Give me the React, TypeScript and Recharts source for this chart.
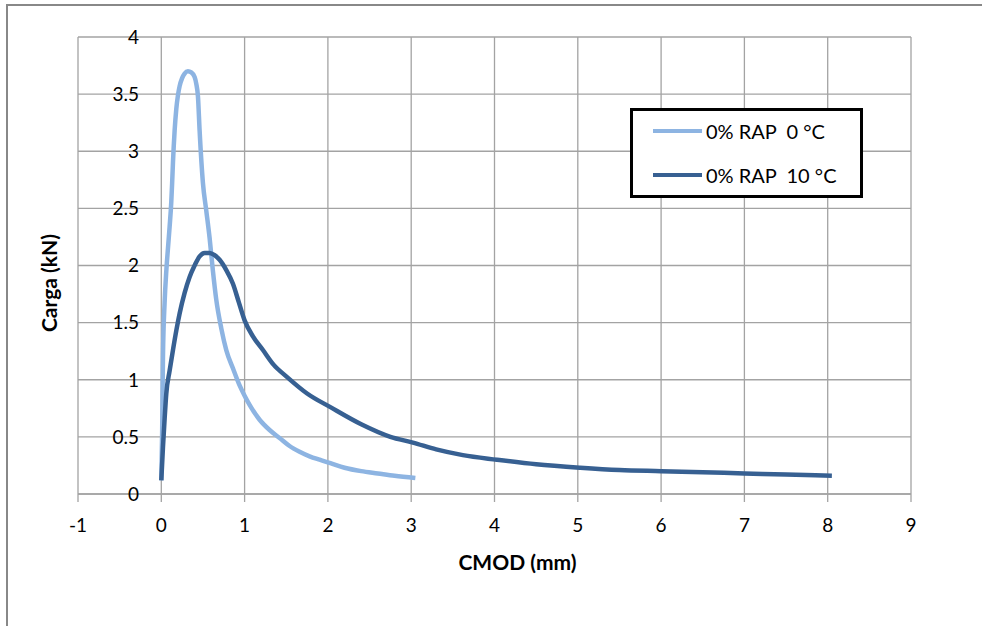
import React from 'react';
import { LineChart, Line, XAxis, YAxis, CartesianGrid, Legend } from 'recharts';

const cmod0 = [0, 0.01, 0.02, 0.04, 0.06, 0.08, 0.10, 0.12, 0.13, 0.14, 0.16, 0.18, 0.20, 0.22, 0.25, 0.28, 0.32, 0.36, 0.40, 0.42, 0.44, 0.46, 0.50, 0.54, 0.58, 0.62, 0.66, 0.72, 0.78, 0.86, 0.94, 1.00, 1.06, 1.18, 1.30, 1.42, 1.54, 1.66, 1.78, 1.90, 2.03, 2.2, 2.4, 2.6, 2.8, 3.05];
const load0 = [0.12, 0.53, 1.20, 1.68, 1.95, 2.15, 2.34, 2.56, 2.72, 2.90, 3.18, 3.37, 3.49, 3.57, 3.64, 3.68, 3.70, 3.69, 3.65, 3.59, 3.48, 3.18, 2.72, 2.48, 2.24, 1.95, 1.70, 1.45, 1.26, 1.10, 0.95, 0.86, 0.78, 0.65, 0.56, 0.49, 0.42, 0.37, 0.33, 0.30, 0.27, 0.23, 0.20, 0.18, 0.16, 0.14];

const cmod10 = [0, 0.02, 0.04, 0.06, 0.10, 0.14, 0.18, 0.22, 0.28, 0.34, 0.40, 0.46, 0.52, 0.58, 0.64, 0.70, 0.78, 0.86, 0.93, 1.00, 1.10, 1.22, 1.35, 1.50, 1.75, 2.03, 2.4, 2.75, 3.02, 3.3, 3.62, 4.03, 4.5, 5.03, 5.5, 6.0, 6.5, 7.0, 7.5, 8.05];
const load10 = [0.12, 0.41, 0.66, 0.88, 1.08, 1.26, 1.43, 1.58, 1.76, 1.90, 2.00, 2.08, 2.11, 2.11, 2.09, 2.05, 1.96, 1.84, 1.68, 1.52, 1.38, 1.26, 1.13, 1.03, 0.88, 0.76, 0.61, 0.50, 0.45, 0.39, 0.34, 0.30, 0.26, 0.23, 0.21, 0.20, 0.19, 0.18, 0.17, 0.16];

const xTicks = [-1, 0, 1, 2, 3, 4, 5, 6, 7, 8, 9];
const yTicks = [0, 0.5, 1, 1.5, 2, 2.5, 3, 3.5, 4];

const seriesNames = ['0% RAP  0 \u00B0C', '0% RAP  10 \u00B0C'];
const seriesColors = ['#8DB4E2', '#376092'];

const data0 = cmod0.map((x, i) => ({ x, y: load0[i] }));
const data10 = cmod10.map((x, i) => ({ x, y: load10[i] }));

const FONT = 'Lato, "Open Sans", sans-serif';
const GRID = '#a3a3a3';

const YTick = (props: any) => {
  const { x, y, payload } = props;
  return (
    <text x={x + 61} y={y} dy="0.36em" textAnchor="end" fill="#000" fontSize={19} fontFamily={FONT}>
      {payload.value}
    </text>
  );
};

const LegendBox = (props: any) => {
  const payload = props.payload || [];
  return (
    <div style={{ width: 233, height: 90, boxSizing: 'border-box', border: '3px solid #000', background: '#fff', position: 'relative', fontFamily: FONT }}>
      {payload.map((p: any, i: number) => (
        <div key={i} style={{ position: 'absolute', left: 0, top: 20 + i * 44 - 12, height: 24, width: 225 }}>
          <div style={{ position: 'absolute', left: 20, top: 10, width: 49, height: 4, background: p.color }} />
          <span style={{ position: 'absolute', left: 73, top: 0, fontSize: 20, lineHeight: '24px', color: '#000', whiteSpace: 'pre' }}>{p.value}</span>
        </div>
      ))}
    </div>
  );
};

export default function App() {
  return (
    <div style={{ position: 'absolute', left: 0, top: 0, width: 982, height: 626, background: '#fff', overflow: 'hidden' }}>
      <div style={{ position: 'absolute', left: 6, top: 4, width: 990, height: 640, borderTop: '2px solid #888', borderLeft: '2px solid #888' }} />
      <LineChart width={982} height={626} margin={{ top: 37, right: 71, bottom: 92, left: 0 }}>
        <CartesianGrid stroke={GRID} strokeWidth={1.3} />
        <XAxis
          type="number"
          dataKey="x"
          domain={[-1, 9]}
          ticks={xTicks}
          interval={0}
          height={40}
          axisLine={{ stroke: GRID, strokeWidth: 1.3 }}
          tickLine={{ stroke: GRID, strokeWidth: 1.3 }}
          tickSize={8}
          tickMargin={17}
          tick={{ fill: '#000', fontSize: 19, fontFamily: FONT }}
          label={({ viewBox }: any) => (
            <text x={viewBox.x + viewBox.width / 2 + 23} y={viewBox.y + viewBox.height + 36} textAnchor="middle" fontSize={21} fontWeight="bold" fontFamily={FONT} fill="#000">
              CMOD (mm)
            </text>
          )}
        />
        <YAxis
          type="number"
          dataKey="y"
          domain={[0, 4]}
          ticks={yTicks}
          interval={0}
          width={78}
          axisLine={false}
          tickLine={false}
          tickSize={0}
          tickMargin={0}
          tick={<YTick />}
          label={() => (
            <text x={57} y={283} transform="rotate(-90 57 283)" textAnchor="middle" fontSize={21} fontWeight="bold" fontFamily={FONT} fill="#000">
              Carga (kN)
            </text>
          )}
        />
        <Legend
          layout="vertical"
          verticalAlign="middle"
          align="center"
          content={<LegendBox />}
          wrapperStyle={{ position: 'absolute', left: 630, top: 108, width: 233, height: 90 }}
        />
        <Line data={data0} dataKey="y" name={seriesNames[0]} type="monotone" stroke={seriesColors[0]} strokeWidth={4.5} dot={false} isAnimationActive={false} />
        <Line data={data10} dataKey="y" name={seriesNames[1]} type="monotone" stroke={seriesColors[1]} strokeWidth={4.5} dot={false} isAnimationActive={false} />
      </LineChart>
    </div>
  );
}
